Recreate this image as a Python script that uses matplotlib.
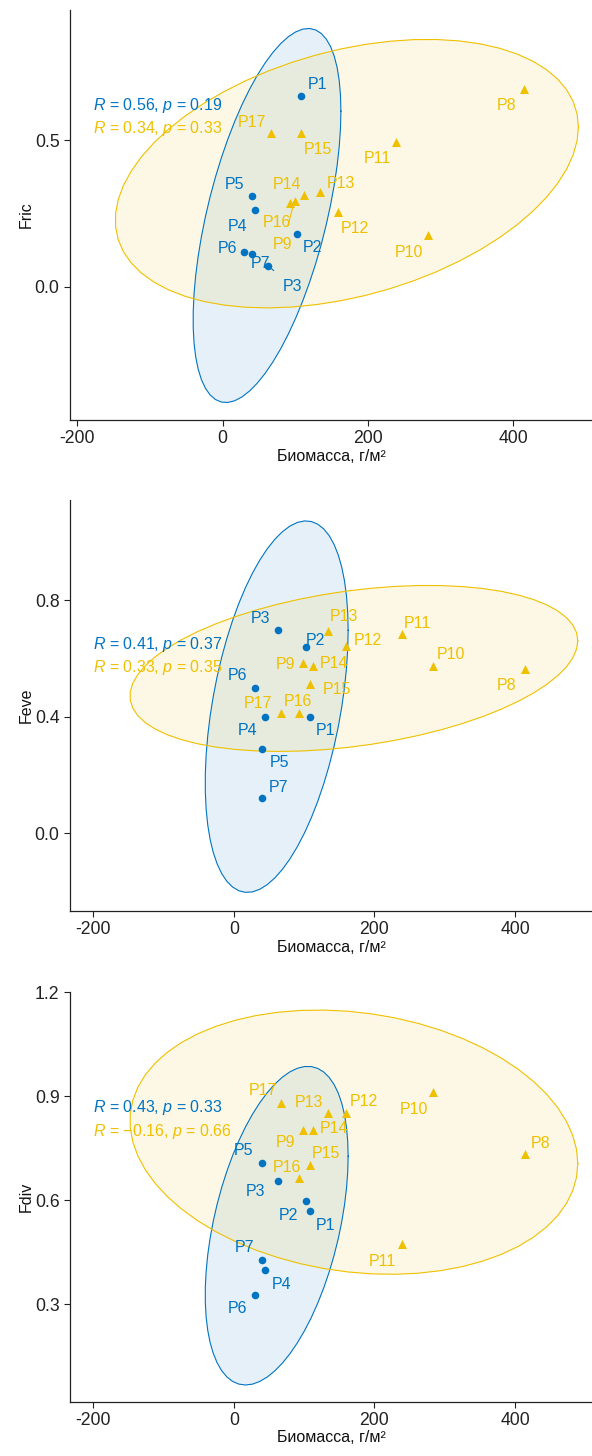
import numpy as np
import matplotlib
matplotlib.use("Agg")
import matplotlib.pyplot as plt
from matplotlib.patches import Polygon

plt.rcParams["font.family"] = ["Liberation Sans", "DejaVu Sans"]
plt.rcParams["mathtext.fontset"] = "custom"
plt.rcParams["mathtext.rm"] = "Liberation Sans"
plt.rcParams["mathtext.it"] = "Liberation Sans:italic"
plt.rcParams["axes.unicode_minus"] = False

# data
plots = [f"P{i}" for i in range(1, 18)]
groups = ["A"] * 7 + ["B"] * 10
biomass = [108, 102, 63, 44, 40, 30, 40, 414, 99, 283, 239, 159, 134, 112, 108, 93, 67]
fric = [0.650, 0.179, 0.070, 0.261, 0.309, 0.119, 0.111, 0.673, 0.292, 0.175,
        0.493, 0.256, 0.322, 0.313, 0.523, 0.284, 0.523]
feve = [0.398, 0.640, 0.697, 0.398, 0.291, 0.497, 0.121, 0.563, 0.584, 0.575,
        0.683, 0.643, 0.694, 0.574, 0.512, 0.414, 0.414]
fdiv = [0.570, 0.599, 0.657, 0.398, 0.709, 0.328, 0.427, 0.733, 0.803, 0.912,
        0.473, 0.853, 0.853, 0.803, 0.703, 0.664, 0.881]
cor_fric = [("0.56", "0.19"), ("0.34", "0.33")]
cor_feve = [("0.41", "0.37"), ("0.33", "0.35")]
cor_fdiv = [("0.43", "0.33"), ("\u22120.16", "0.66")]

COLORS = {"A": "#0073C2", "B": "#EFC000"}
MARKERS = {"A": "o", "B": "^"}

# label offsets in pixels (repel-like placement)
off_fric = {"P1": (16, 12), "P2": (16, -13), "P3": (24, -20), "P4": (-17, -16), "P5": (-17, 12),
            "P6": (-17, 3), "P7": (9, -9), "P8": (-17, -16), "P9": (-12, -43), "P10": (-19, -17),
            "P11": (-19, -16), "P12": (17, -17), "P13": (21, 9), "P14": (-17, 10), "P15": (17, -16),
            "P16": (-13, -19), "P17": (-19, 11)}
off_feve = {"P1": (16, -13), "P2": (10, 6), "P3": (-18, 12), "P4": (-17, -13), "P5": (18, -14),
            "P6": (-17, 13), "P7": (17, 11), "P8": (-18, -16), "P9": (-18, -1), "P10": (18, 11),
            "P11": (16, 11), "P12": (22, 5), "P13": (16, 14), "P14": (21, 2), "P15": (27, -5),
            "P16": (-1, 11), "P17": (-23, 9)}
off_fdiv = {"P1": (16, -15), "P2": (-17, -15), "P3": (-23, -11), "P4": (17, -14), "P5": (-18, 12),
            "P6": (-17, -14), "P7": (-17, 13), "P8": (16, 11), "P9": (-18, -13), "P10": (-19, -17),
            "P11": (-19, -17), "P12": (18, 11), "P13": (-19, 10), "P14": (21, 1), "P15": (16, 11),
            "P16": (-12, 11), "P17": (-18, 12)}


def norm_ellipse(x, y, level=0.95, segments=60):
    x = np.asarray(x, float); y = np.asarray(y, float)
    dfd = len(x) - 1
    fq = dfd / 2 * ((1 - level) ** (-2 / dfd) - 1)  # F quantile, df1 = 2
    radius = np.sqrt(2 * fq)
    chol = np.linalg.cholesky(np.cov(x, y)).T
    t = np.linspace(0, 2 * np.pi, segments)
    unit = np.column_stack([np.cos(t), np.sin(t)])
    return np.array([x.mean(), y.mean()]) + radius * unit @ chol


panels = [
    ("Fric", fric, cor_fric, off_fric, ["P3", "P9"], (-210, 508), (-0.4545, 0.943),
     [0.0, 0.5], [0.1182, 0.7115, 0.8818, 0.2816], (0.768, 0.7105)),
    ("Feve", feve, cor_feve, off_feve, [], (-233, 509.5), (-0.265, 1.143),
     [0.0, 0.4, 0.8], [0.1182, 0.3745, 0.8818, 0.2821], (0.649, 0.592)),
    ("Fdiv", fdiv, cor_fdiv, off_fdiv, [], (-233, 509.5), (0.019, 1.202),
     [0.3, 0.6, 0.9, 1.2], [0.1182, 0.0373, 0.8818, 0.2816], (0.717, 0.660)),
]

fig = plt.figure(figsize=(5.92, 14.56), dpi=100)
for ylab, vals, cors, offs, segs, xlim, ylim, yticks, rect, ry in panels:
    ax = fig.add_axes(rect)
    xs = np.array(biomass, float); ys = np.array(vals, float)
    g = np.array(groups)
    for grp in ["A", "B"]:
        m = g == grp
        pts = norm_ellipse(xs[m], ys[m])
        ax.add_patch(Polygon(pts, closed=True, facecolor=COLORS[grp], alpha=0.1,
                             edgecolor="none", zorder=1))
        ax.plot(pts[:, 0], pts[:, 1], color=COLORS[grp], lw=0.8, zorder=2)
    for grp in ["A", "B"]:
        m = g == grp
        ax.scatter(xs[m], ys[m], marker=MARKERS[grp], color=COLORS[grp],
                   s=30 if grp == "A" else 42, linewidths=0, zorder=3)
    for name, xv, yv, grp in zip(plots, xs, ys, groups):
        kw = {}
        if name in segs:
            kw["arrowprops"] = dict(arrowstyle="-", color=COLORS[grp], lw=0.8,
                                    shrinkA=6, shrinkB=3)
        ax.annotate(name, (xv, yv), xytext=offs[name], textcoords="offset pixels",
                    ha="center", va="center", color=COLORS[grp], fontsize=11.5, zorder=4, **kw)
    for (r, p), grp, yy in zip(cors, ["A", "B"], ry):
        ax.text(0.045, yy, f"$R$ = {r}, $p$ = {p}", transform=ax.transAxes,
                color=COLORS[grp], fontsize=11.5, ha="left", va="center", zorder=5)
    ax.set_xlim(*xlim); ax.set_ylim(*ylim)
    ax.set_xticks([-200, 0, 200, 400])
    ax.set_yticks(yticks)
    ax.set_yticklabels([f"{v:.1f}" for v in yticks])
    ax.spines["top"].set_visible(False); ax.spines["right"].set_visible(False)
    for s in ("left", "bottom"):
        ax.spines[s].set_linewidth(0.9); ax.spines[s].set_color("#222222")
    ax.tick_params(length=4, width=0.8, color="#222222", labelsize=12.7, labelcolor="#222222")
    ax.set_xlabel("Биомасса, г/м²", fontsize=11.5, labelpad=1, color="#111111")
    ax.set_ylabel(ylab, fontsize=11.5, labelpad=1, color="#111111")

fig.savefig("out.png", dpi=100)
